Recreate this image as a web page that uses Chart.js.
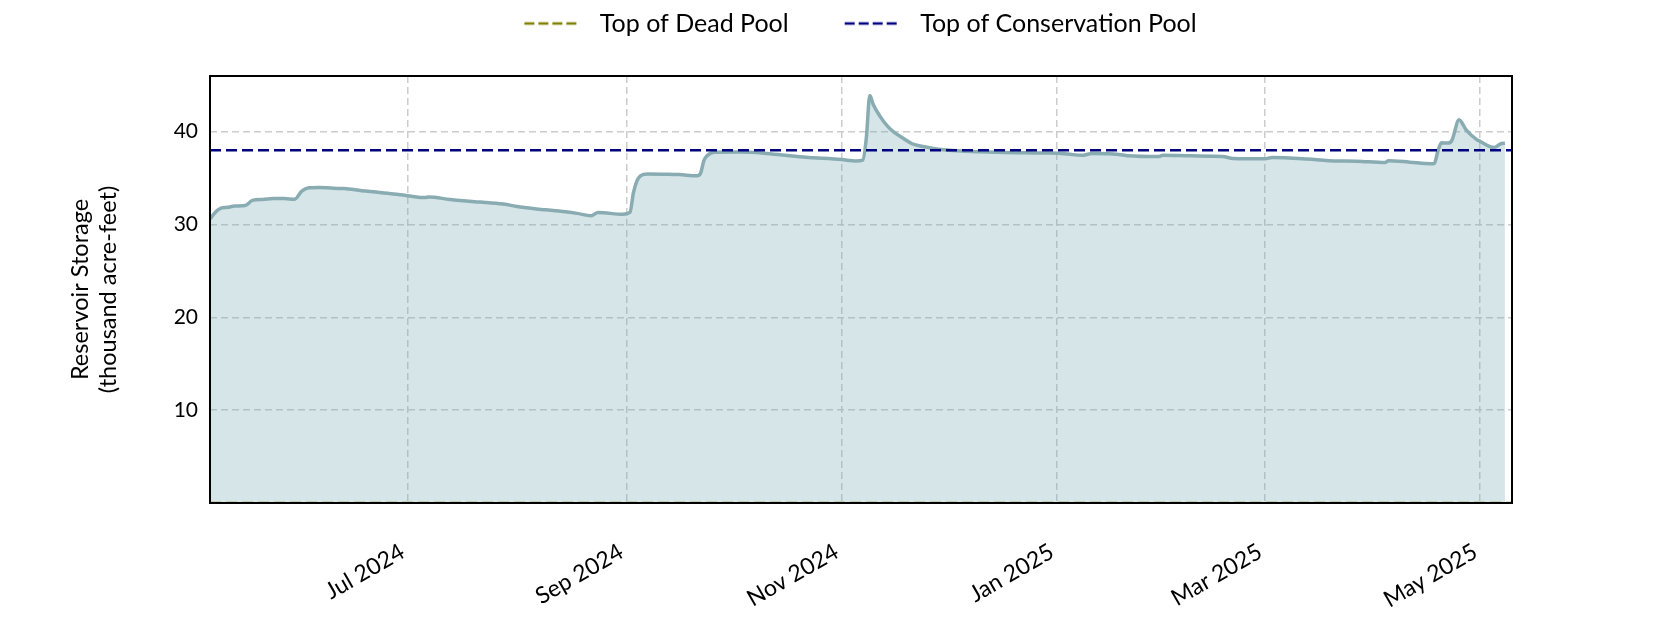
<!DOCTYPE html>
<html>
<head>
<meta charset="utf-8">
<title>Reservoir Storage</title>
<script src="https://cdn.jsdelivr.net/npm/chart.js@4.4.1/dist/chart.umd.min.js"></script>
<style>
  body { margin: 0; background: #fff; }
</style>
</head>
<body>
<canvas id="chartCanvas" width="1680" height="630"></canvas>
<script>
// Daily-ish readings traced from the storage record (thousand acre-feet)
const dates = [
    "2024-05-06", "2024-05-07", "2024-05-08", "2024-05-09", "2024-05-11", "2024-05-13",
    "2024-05-16", "2024-05-18", "2024-05-21", "2024-05-24", "2024-05-27", "2024-05-30",
    "2024-06-01", "2024-06-03", "2024-06-06", "2024-06-10", "2024-06-13", "2024-06-18",
    "2024-06-22", "2024-06-27", "2024-07-01", "2024-07-06", "2024-07-07", "2024-07-13",
    "2024-07-20", "2024-07-23", "2024-07-28", "2024-08-02", "2024-08-09", "2024-08-14",
    "2024-08-18", "2024-08-22", "2024-08-24", "2024-08-31", "2024-09-02", "2024-09-03",
    "2024-09-04", "2024-09-05", "2024-09-07", "2024-09-12", "2024-09-16", "2024-09-21",
    "2024-09-22", "2024-09-23", "2024-09-24", "2024-09-26", "2024-10-03", "2024-10-10",
    "2024-10-16", "2024-10-20", "2024-10-24", "2024-11-01", "2024-11-05", "2024-11-07",
    "2024-11-08", "2024-11-09", "2024-11-10", "2024-11-12", "2024-11-14", "2024-11-16",
    "2024-11-18", "2024-11-21", "2024-11-24", "2024-11-27", "2024-11-30", "2024-12-06",
    "2024-12-15", "2024-12-23", "2024-12-30", "2025-01-04", "2025-01-08", "2025-01-11",
    "2025-01-17", "2025-01-21", "2025-01-30", "2025-01-31", "2025-02-08", "2025-02-17",
    "2025-02-20", "2025-03-01", "2025-03-03", "2025-03-13", "2025-03-19", "2025-03-27",
    "2025-04-04", "2025-04-05", "2025-04-11", "2025-04-17", "2025-04-18", "2025-04-19",
    "2025-04-20", "2025-04-22", "2025-04-23", "2025-04-25", "2025-04-27", "2025-04-30",
    "2025-05-01", "2025-05-04", "2025-05-05", "2025-05-07", "2025-05-08"
];
const storage = [
    30.6, 31.1, 31.5, 31.75, 31.85, 32.0,
    32.05, 32.6, 32.7, 32.8, 32.8, 32.72,
    33.6, 33.95, 34.0, 33.9, 33.88, 33.65,
    33.5, 33.3, 33.1, 32.9, 32.97, 32.7,
    32.45, 32.38, 32.2, 31.88, 31.58, 31.4,
    31.2, 30.95, 31.3, 31.1, 31.3, 33.4,
    34.7, 35.25, 35.45, 35.42, 35.38, 35.25,
    35.5, 36.9, 37.45, 37.78, 37.8, 37.68,
    37.45, 37.3, 37.2, 37.0, 36.85, 36.95,
    39.3, 43.9, 42.9, 41.6, 40.6, 39.9,
    39.4, 38.7, 38.4, 38.2, 38.05, 37.9,
    37.78, 37.72, 37.7, 37.6, 37.45, 37.65,
    37.6, 37.42, 37.33, 37.45, 37.4, 37.33,
    37.12, 37.08, 37.22, 37.05, 36.87, 36.82,
    36.68, 36.87, 36.72, 36.55, 36.6, 37.9,
    38.8, 38.78, 39.1, 41.3, 40.2, 39.15,
    38.95, 38.35, 38.3, 38.72, 38.75
];

const deadPool = 0;            // sits on the bottom of the axis
const conservationPool = 38.0;

const xStart = "2024-05-06";
const xEnd = "2025-05-10";
const tickDates = ["2024-07-01", "2024-09-01", "2024-11-01", "2025-01-01", "2025-03-01", "2025-05-01"];
const tickLabels = ["Jul 2024", "Sep 2024", "Nov 2024", "Jan 2025", "Mar 2025", "May 2025"];
const yTicks = [10, 20, 30, 40];
const yMax = 46;

const FONT = "Lato, 'Open Sans', sans-serif";

function toTime(d) {
    return Date.parse(d + "T00:00:00Z");
}

// dashed legend handle, with blank room left of it so items sit apart
function legendHandle(color) {
    const c = document.createElement("canvas");
    c.width = 104;
    c.height = 6;
    const g = c.getContext("2d");
    g.strokeStyle = color;
    g.lineWidth = 2.5;
    g.setLineDash([10, 4]);
    g.beginPath();
    g.moveTo(41, 3);
    g.lineTo(95, 3);
    g.stroke();
    return c;
}

function flatLine(value) {
    return [{ x: toTime(xStart), y: value }, { x: toTime(xEnd), y: value }];
}

// black box round the plot, drawn over the data like matplotlib spines
const framePlugin = {
    id: "frame",
    afterDatasetsDraw(chart) {
        const { ctx, chartArea: a } = chart;
        ctx.save();
        ctx.strokeStyle = "#000";
        ctx.lineWidth = 2;
        ctx.strokeRect(a.left, a.top, a.right - a.left, a.bottom - a.top);
        ctx.restore();
    }
};

// extra room under the legend
const legendGap = {
    id: "legendGap",
    beforeInit(chart) {
        const fit = chart.legend.fit;
        chart.legend.fit = function () {
            fit.call(this);
            this.height += 30;
        };
    }
};

const ctx = document.getElementById("chartCanvas").getContext("2d");

new Chart(ctx, {
    type: "line",
    data: {
        datasets: [
            {
                label: "Top of Dead Pool",
                data: flatLine(deadPool),
                borderColor: "#808000",
                borderWidth: 2.5,
                borderDash: [11, 5],
                pointRadius: 0,
                pointStyle: legendHandle("#808000"),
                fill: false,
                clip: 0,
                order: 0
            },
            {
                label: "Top of Conservation Pool",
                data: flatLine(conservationPool),
                borderColor: "#000080",
                borderWidth: 2.5,
                borderDash: [11, 5],
                pointRadius: 0,
                pointStyle: legendHandle("#000080"),
                fill: false,
                order: 0
            },
            {
                label: "Storage",
                data: dates.map((d, i) => ({ x: toTime(d), y: storage[i] })),
                borderColor: "rgb(137, 172, 178)",
                backgroundColor: "rgba(120, 170, 180, 0.3)",
                borderWidth: 3.5,
                pointRadius: 0,
                cubicInterpolationMode: "monotone",
                fill: "origin",
                order: 1
            }
        ]
    },
    options: {
        responsive: false,
        animation: false,
        devicePixelRatio: 1,
        layout: { padding: { top: -4, right: 0, bottom: 0, left: 0 } },
        plugins: {
            tooltip: { enabled: false },
            legend: {
                position: "top",
                labels: {
                    filter: item => item.text !== "Storage",
                    usePointStyle: true,
                    pointStyleWidth: 104,
                    padding: 15,
                    color: "#000",
                    font: { family: FONT, size: 25 }
                }
            }
        },
        scales: {
            x: {
                type: "linear",
                min: toTime(xStart),
                max: toTime(xEnd),
                afterBuildTicks: scale => {
                    scale.ticks = tickDates.map(d => ({ value: toTime(d) }));
                },
                afterFit: scale => { scale.height = 127; },
                ticks: {
                    callback: (value, index) => tickLabels[index],
                    autoSkip: false,
                    minRotation: 30,
                    maxRotation: 30,
                    padding: 35,
                    labelOffset: -5,
                    color: "#000",
                    font: { family: FONT, size: 23 }
                },
                grid: { color: "#cccccc", lineWidth: 1.5, drawTicks: false },
                border: { display: false, dash: [7, 4] }
            },
            y: {
                min: 0,
                max: yMax,
                afterBuildTicks: scale => {
                    scale.ticks = yTicks.map(v => ({ value: v }));
                },
                afterFit: scale => { scale.width = 210; },
                ticks: {
                    padding: 12,
                    color: "#000",
                    font: { family: FONT, size: 21 }
                },
                grid: { color: "#cccccc", lineWidth: 1.5, drawTicks: false },
                border: { display: false, dash: [7, 4] },
                title: {
                    display: true,
                    text: ["Reservoir Storage", "(thousand acre-feet)"],
                    color: "#000",
                    font: { family: FONT, size: 23.5, lineHeight: 1.2 },
                    padding: { top: 66, bottom: 0 }
                }
            },
            // empty right-hand margin, keeps the legend centred on the full width
            yRight: {
                position: "right",
                afterFit: scale => { scale.width = 168; },
                ticks: { display: false },
                grid: { display: false, drawTicks: false },
                border: { display: false }
            }
        }
    },
    plugins: [framePlugin, legendGap]
});
</script>
</body>
</html>
